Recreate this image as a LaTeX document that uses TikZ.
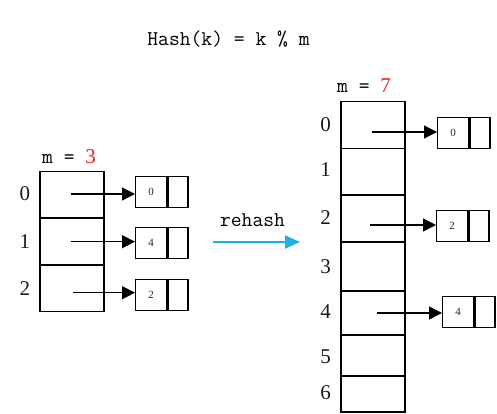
\documentclass[tikz,border=0pt]{standalone}
\usepackage{fontspec}
\newfontfamily\serifd{Liberation Serif}
\usetikzlibrary{arrows.meta}
\definecolor{redd}{RGB}{225,35,35}
\definecolor{cyanarrow}{RGB}{30,175,230}
\begin{document}
\begin{tikzpicture}[x=1pt,y=-1pt,
  cell/.style={draw, line width=1.5pt, minimum width=64pt, inner sep=0, anchor=north west},
  valbox/.style={draw, line width=1.4pt, minimum width=31pt, minimum height=31pt, inner sep=0, anchor=north west, font=\serifd\fontsize{11}{11}\selectfont, text=black!85},
  nextbox/.style={draw, line width=1.4pt, minimum width=20pt, minimum height=31pt, inner sep=0, anchor=west},
  idx/.style={font=\serifd\fontsize{21}{21}\selectfont, inner sep=0, text=black!90},
  mono/.style={font=\ttfamily\fontsize{21}{21}\selectfont, inner sep=0, text=black},
  ptr/.style={line width=1.4pt, -{Triangle[length=13pt,width=13pt]}},
]
\useasboundingbox (0,0) rectangle (497,414);

% title
\node[mono, anchor=base] (title) at (228.5,46) {Hash(k) = k \% m};

% ---------- left table (m = 3) ----------
\node[mono, anchor=base west] (m3) at (42,164) {m = \textcolor{redd}{\serifd 3}};
\node[cell, minimum height=46.7pt] (L0) at (39,170.7) {};
\node[cell, minimum height=46.7pt] (L1) at (39,217.3) {};
\node[cell, minimum height=46.7pt] (L2) at (39,264) {};
\node[idx] (li0) at (25,194) {0};
\node[idx] (li1) at (25,241.5) {1};
\node[idx] (li2) at (25,288.5) {2};

\node[valbox] (lb0) at (135,176) {0};
\node[nextbox] (ln0) at (lb0.east) {};
\node[valbox] (lb1) at (135,227) {4};
\node[nextbox] (ln1) at (lb1.east) {};
\node[valbox] (lb2) at (135,279) {2};
\node[nextbox] (ln2) at (lb2.east) {};

\coordinate (ls0) at (71,194);
\coordinate (ls1) at (71,241.7);
\coordinate (ls2) at (73,292.7);
\draw[ptr] (ls0) -- (ls0 -| lb0.west);
\draw[ptr] (ls1) -- (ls1 -| lb1.west);
\draw[ptr] (ls2) -- (ls2 -| lb2.west);

% ---------- rehash arrow ----------
\node[mono, anchor=base] (rh) at (252.5,226.7) {rehash};
\coordinate (ra) at (213,242);
\coordinate (rb) at (300,242);
\draw[cyanarrow, line width=2pt, -{Triangle[length=15pt,width=13pt]}] (ra) -- (rb);

% ---------- right table (m = 7) ----------
\node[mono, anchor=base west] (m7) at (337,93) {m = \textcolor{redd}{\serifd 7}};
\node[cell, minimum height=47pt] (R0) at (340,101) {};
\node[cell, minimum height=46pt] (R1) at (340,148) {};
\node[cell, minimum height=47pt] (R2) at (340,194) {};
\node[cell, minimum height=49pt] (R3) at (340,241) {};
\node[cell, minimum height=44pt] (R4) at (340,290) {};
\node[cell, minimum height=41pt] (R5) at (340,334) {};
\node[cell, minimum height=36pt] (R6) at (340,375) {};
\node[idx] (ri0) at (325.5,125) {0};
\node[idx] (ri1) at (325.5,170) {1};
\node[idx] (ri2) at (325.5,218) {2};
\node[idx] (ri3) at (325.5,267) {3};
\node[idx] (ri4) at (325.5,312) {4};
\node[idx] (ri5) at (325.5,357) {5};
\node[idx] (ri6) at (325.5,393) {6};

\node[valbox] (rb0) at (437,117) {0};
\node[nextbox] (rn0) at (rb0.east) {};
\node[valbox] (rb2) at (436,210) {2};
\node[nextbox] (rn2) at (rb2.east) {};
\node[valbox] (rb4) at (442,296) {4};
\node[nextbox] (rn4) at (rb4.east) {};

\coordinate (rs0) at (372,132);
\coordinate (rs2) at (370,225);
\coordinate (rs4) at (377,313);
\draw[ptr] (rs0) -- (rs0 -| rb0.west);
\draw[ptr] (rs2) -- (rs2 -| rb2.west);
\draw[ptr] (rs4) -- (rs4 -| rb4.west);
\end{tikzpicture}
\end{document}
